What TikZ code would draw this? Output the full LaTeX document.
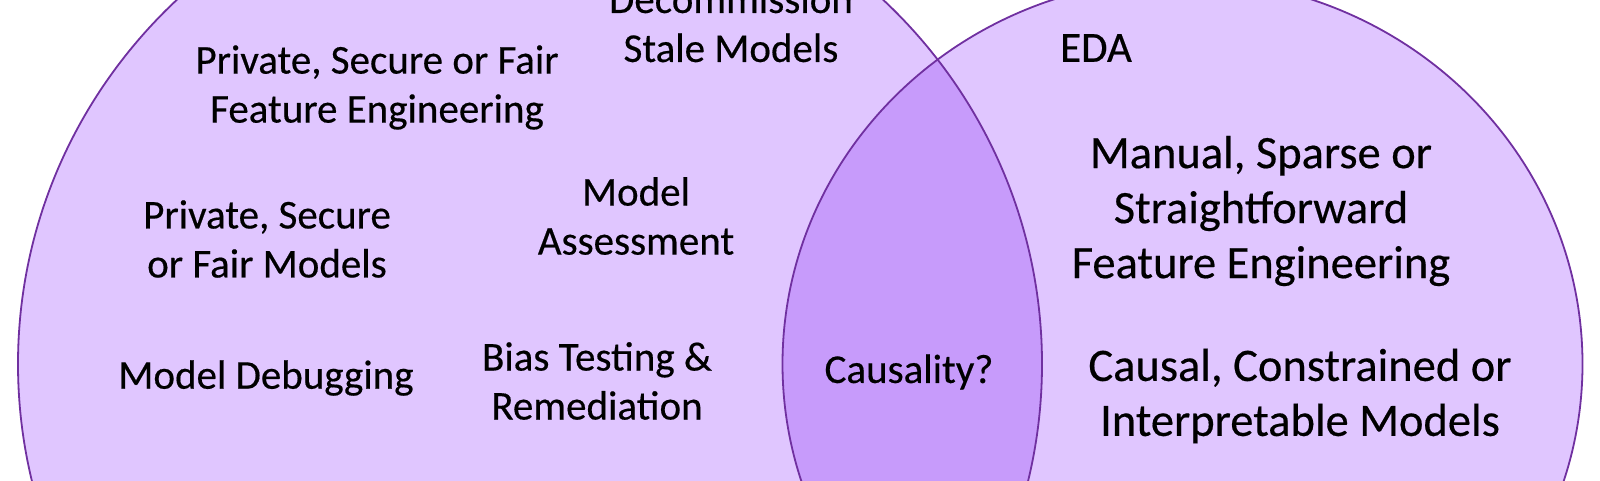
\documentclass[tikz,border=0pt]{standalone}
\usepackage{fontspec}
\setmainfont{Carlito}[FakeBold=0.4]
\definecolor{lightfill}{HTML}{E0C6FF}
\definecolor{lensfill}{HTML}{C79BFB}
\definecolor{edgecol}{HTML}{7030A0}
\begin{document}
\begin{tikzpicture}[x=1pt,y=-1pt,
  lbl/.style={align=center,inner sep=0pt,text=black,font=\fontsize{41}{49}\selectfont},
  biglbl/.style={align=center,inner sep=0pt,text=black,font=\fontsize{46.5}{55}\selectfont},
  ring/.style={draw=edgecol,line width=1.8pt}]
\useasboundingbox (0,0) rectangle (1600,480);
\clip (0,0) rectangle (1600,480);
\coordinate (lc) at (530,364);
\coordinate (rc) at (1182.5,364);
\fill[lightfill] (lc) ellipse[x radius=512pt,y radius=503pt];
\fill[lightfill] (rc) ellipse[x radius=400pt,y radius=385pt];
\begin{scope}
  \clip (lc) ellipse[x radius=512pt,y radius=503pt];
  \fill[lensfill] (rc) ellipse[x radius=400pt,y radius=385pt];
\end{scope}
\draw[ring] (lc) ellipse[x radius=512pt,y radius=503pt];
\draw[ring] (rc) ellipse[x radius=400pt,y radius=385pt];
\node[lbl] (decom) at (731,23.5) {Decommission\\Stale Models};
\node[lbl] (pfe) at (377,87.5) {Private, Secure or Fair\\Feature Engineering};
\node[lbl] (pfm) at (267,239) {Private, Secure\\or Fair Models};
\node[lbl] (assess) at (636,216) {Model\\Assessment};
\node[lbl] (debug) at (266,378) {Model Debugging};
\node[lbl] (bias) at (597,381) {Bias Testing \&\\Remediation};
\node[lbl] (causal) at (909,372) {Causality?};
\node[lbl,font=\fontsize{43}{52}\selectfont] (eda) at (1096,48) {EDA};
\node[biglbl] (manual) at (1261,211) {Manual, Sparse or\\Straightforward\\Feature Engineering};
\node[biglbl] (interp) at (1300,396) {Causal, Constrained or\\Interpretable Models};
\end{tikzpicture}
\end{document}
